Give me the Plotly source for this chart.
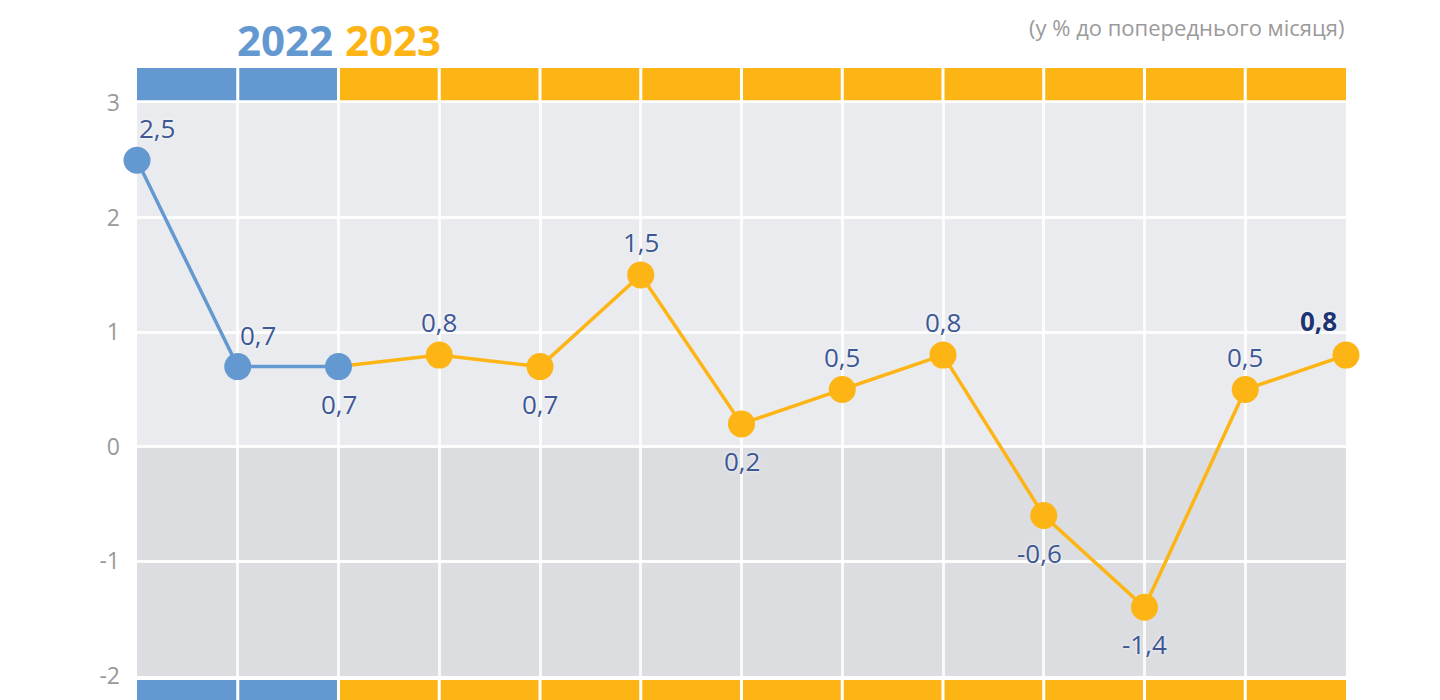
import plotly.graph_objects as go

months = ["Жов 2022", "Лис 2022", "Гру 2022", "Січ 2023", "Лют 2023", "Бер 2023", "Кві 2023",
          "Тра 2023", "Чер 2023", "Лип 2023", "Сер 2023", "Вер 2023", "Жов 2023"]
values = [2.5, 0.7, 0.7, 0.8, 0.7, 1.5, 0.2, 0.5, 0.8, -0.6, -1.4, 0.5, 0.8]
years = ["2022", "2023"]
n_2022 = 3  # points belonging to 2022 (blue)
label_side = ["ur", "ur", "b", "a", "b", "a", "b", "a", "a", "bl", "b", "a", "ul"]
ytick_vals = [-2, -1, 0, 1, 2, 3]
ytick_text = ["-2", "-1", "0", "1", "2", "3"]
subtitle = "(у % до попереднього місяця)"

BLUE = "#6399d0"
YELLOW = "#fdb515"
NAVY = "#3d5795"
NAVY_DARK = "#1c3472"
FONT = "Open Sans"

x = list(range(len(values)))

fig = go.Figure()

# yellow (2023) line, starting from last 2022 point
fig.add_trace(go.Scatter(
    x=x[n_2022 - 1:], y=values[n_2022 - 1:], mode="lines+markers",
    line=dict(color=YELLOW, width=3.5),
    marker=dict(color=YELLOW, size=[0] + [27] * (len(values) - n_2022), opacity=1,
                line=dict(width=0)),
    cliponaxis=False, hoverinfo="skip", showlegend=False))
# blue (2022)
fig.add_trace(go.Scatter(
    x=x[:n_2022], y=values[:n_2022], mode="lines+markers",
    line=dict(color=BLUE, width=3.5),
    marker=dict(color=BLUE, size=27, opacity=1, line=dict(width=0)),
    cliponaxis=False, hoverinfo="skip", showlegend=False))

shapes = []
# background bands
shapes.append(dict(type="rect", xref="x", yref="y", x0=0, x1=len(values) - 1, y0=0, y1=3,
                   fillcolor="#eaebee", line=dict(width=0), layer="below"))
shapes.append(dict(type="rect", xref="x", yref="y", x0=0, x1=len(values) - 1, y0=-2, y1=0,
                   fillcolor="#dcdde0", line=dict(width=0), layer="below"))
# year bars (top and bottom)
gap = 0.015
for i in range(len(values) - 1):
    col = BLUE if i + 1 < n_2022 else YELLOW
    for (y0, y1) in [(1.005, 1.061), (-0.007, -0.08)]:
        shapes.append(dict(type="rect", xref="x", yref="paper",
                           x0=i + (gap if i > 0 else 0), x1=i + 1 - (gap if i < len(values) - 2 else 0),
                           y0=y0, y1=y1, fillcolor=col, line=dict(width=0), layer="above"))

annotations = []
offs = {"a": (0, 33), "b": (0, -37), "ur": (20, 32), "ul": (-28, 34), "bl": (-4, -37)}
for i, (v, side) in enumerate(zip(values, label_side)):
    dx, dy = offs[side]
    last = i == len(values) - 1
    txt = f"{v:.1f}".replace(".", ",")
    if last:
        txt = f"<b>{txt}</b>"
    annotations.append(dict(
        x=x[i], y=v, xref="x", yref="y", text=txt, showarrow=False,
        xshift=dx, yshift=dy,
        font=dict(family=FONT, size=26, color=NAVY_DARK if last else NAVY,
                  shadow="0px 0px 3px white")))

# year labels
annotations.append(dict(x=n_2022 - 1, y=1.111, xref="x", yref="paper", text=f"<b>{years[0]}</b>",
                        xanchor="right", xshift=-4, yanchor="middle", showarrow=False,
                        font=dict(family=FONT, size=42, color=BLUE)))
annotations.append(dict(x=n_2022 - 1, y=1.111, xref="x", yref="paper", text=f"<b>{years[1]}</b>",
                        xanchor="left", xshift=4, yanchor="middle", showarrow=False,
                        font=dict(family=FONT, size=42, color=YELLOW)))
# subtitle at the top right
annotations.append(dict(x=1.0, y=1.163, xref="paper", yref="paper", text=subtitle,
                        xanchor="right", yanchor="top", showarrow=False,
                        font=dict(family=FONT, size=22, color="#9a9a9a")))

fig.update_layout(
    width=1440, height=700,
    margin=dict(l=129, r=102, t=95, b=32),
    paper_bgcolor="white", plot_bgcolor="#eaebee",
    shapes=shapes, annotations=annotations,
    xaxis=dict(range=[0, len(values) - 1], tickvals=x, showticklabels=False,
               showgrid=True, gridcolor="rgba(255,255,255,0.85)", gridwidth=3,
               zeroline=False, showline=False, fixedrange=True),
    yaxis=dict(range=[-2, 3], tickvals=ytick_vals, ticktext=ytick_text,
               showgrid=True, gridcolor="rgba(255,255,255,0.9)", gridwidth=3,
               zeroline=False, showline=False, ticklabelstandoff=16,
               tickfont=dict(family=FONT, size=23, color="#999999"), fixedrange=True),
    showlegend=False,
)

fig.write_html("out.html")
